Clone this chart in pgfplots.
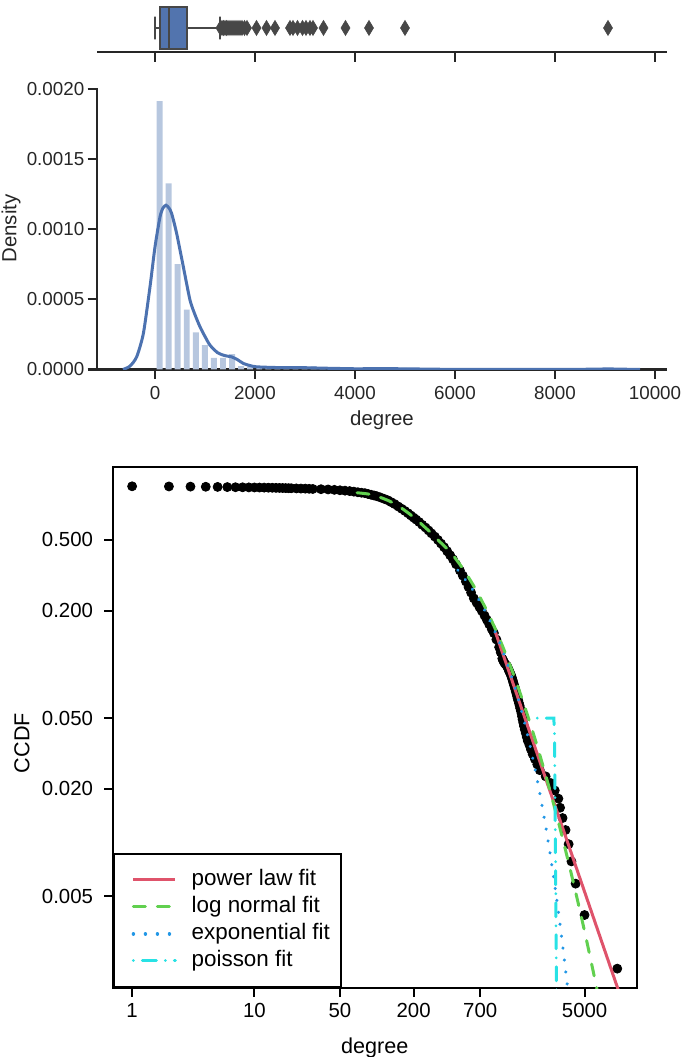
\documentclass[border=0pt]{standalone}
\usepackage{pgfplots}
\pgfplotsset{compat=1.18}
\usepackage{fontspec}
\setmainfont{Liberation Sans}
\definecolor{axgray}{HTML}{262626}
\definecolor{boxblue}{HTML}{5274AE}
\definecolor{boxgray}{HTML}{474747}
\definecolor{histblue}{HTML}{B7C7DF}
\definecolor{kdeblue}{HTML}{4C72B0}
\definecolor{rred}{HTML}{DF536B}
\definecolor{rgreen}{HTML}{61D04F}
\definecolor{rblue}{HTML}{2297E6}
\definecolor{rcyan}{HTML}{28E2E5}
\begin{document}
\begin{tikzpicture}
\useasboundingbox (0,0) rectangle (342.5pt,528.5pt);
% ---------------- top: boxplot ----------------
\begin{axis}[
  at={(48.5pt,502.35pt)}, anchor=south west,
  scale only axis, width=285pt, height=25.15pt,
  xmin=-1160, xmax=10240, ymin=0, ymax=50.3,
  axis x line*=bottom, axis y line=none,
  axis line style={line width=1.15pt, color=axgray},
  xtick={0,2000,4000,6000,8000,10000}, xticklabels={},
  scaled ticks=false,
  tick align=outside, major tick length=4.8pt,
  tick style={line width=1.15pt, color=axgray},
  clip=false,
]
\addplot[fill=boxblue, draw=boxgray, line width=1pt] coordinates {(100,3.3) (634,3.3) (634,45.6) (100,45.6)} -- cycle;
\addplot[draw=boxgray, line width=1pt] coordinates {(275,3.3) (275,45.6)};
\addplot[draw=boxgray, line width=1.2pt] coordinates {(1,24.3) (100,24.3)};
\addplot[draw=boxgray, line width=1.2pt] coordinates {(634,24.3) (1300,24.3)};
\addplot[draw=boxgray, line width=1.4pt, line cap=round] coordinates {(1,13.8) (1,34.8)};
\addplot[draw=boxgray, line width=1.4pt, line cap=round] coordinates {(1300,13.8) (1300,34.8)};
\addplot[only marks, mark=diamond*, mark size=3.75pt,
  mark options={xscale=0.8, fill=boxgray, draw=boxgray, line width=0.3pt}]
  coordinates {(1310,24.3) (1340,24.3) (1370,24.3) (1400,24.3) (1430,24.3) (1460,24.3)
  (1500,24.3) (1540,24.3) (1580,24.3) (1620,24.3) (1660,24.3) (1700,24.3) (1740,24.3)
  (1790,24.3) (1840,24.3) (2030,24.3) (2230,24.3) (2400,24.3) (2700,24.3) (2760,24.3)
  (2850,24.3) (2950,24.3) (3020,24.3) (3100,24.3) (3160,24.3) (3370,24.3) (3810,24.3)
  (4280,24.3) (5000,24.3) (9060,24.3)};
\end{axis}
% ---------------- middle: histogram + KDE ----------------
\begin{axis}[
  at={(48.5pt,343.75pt)}, anchor=south west,
  scale only axis, width=285pt, height=140.9pt,
  xmin=-1160, xmax=10240, ymin=0, ymax=0.002007,
  axis x line*=bottom, axis y line*=left,
  axis line style={line width=1.15pt, color=axgray},
  tick align=outside, major tick length=4.65pt,
  tick style={line width=1.15pt, color=axgray},
  xtick={0,2000,4000,6000,8000,10000},
  xticklabels={0,2000,4000,6000,8000,10000},
  ytick={0,0.0005,0.001,0.0015,0.002},
  yticklabels={0.0000,0.0005,0.0010,0.0015,0.0020},
  scaled ticks=false,
  tick label style={font=\fontsize{9.4}{11}\selectfont, text=axgray},
  xticklabel style={inner sep=0pt, anchor=north, yshift=-3.7pt},
  yticklabel style={inner sep=0pt, anchor=east, xshift=-1.5pt},
  xlabel={degree}, ylabel={Density},
  label style={font=\fontsize{10.2}{12}\selectfont, text=axgray},
  xlabel style={at={(axis description cs:0.5,-0.1437)}, anchor=north, inner sep=0pt},
  ylabel style={at={(axis description cs:-0.1509,0.5)}, anchor=center, inner sep=0pt},
]
\addplot[ybar, bar width=118, bar shift=0pt, fill=histblue, draw=none] coordinates {
  (91.6,0.001911) (272.8,0.001325) (454.0,0.000750) (635.2,0.000427) (816.4,0.000264)
  (997.6,0.000173) (1178.8,0.000083) (1360.0,0.000083) (1541.2,0.000109) (1722.4,0.000024)
  (1903.6,0.0000216) (2084.8,0.0000108) (2266.0,0.0000108) (2447.2,0.0000108)
  (2628.4,0.0000108) (2809.6,0.0000216) (2990.8,0.0000216) (3172.0,0.0000216)
  (3353.2,0.0000108) (3896.8,0.0000108) (4259.2,0.0000108) (4984.0,0.0000108)
  (8969.8,0.0000108)};
\addplot[kdeblue, line width=1.5pt, smooth, tension=0.4] coordinates {
  (-640,0) (-500,0.000024) (-367,0.00009) (-233,0.000256) (-100,0.000589) (0,0.000873)
  (100,0.001087) (160,0.00115) (220,0.00117) (280,0.00115) (333,0.001111) (433,0.000969)
  (567,0.000731) (700,0.000494) (800,0.00039) (900,0.000304) (1000,0.000235)
  (1100,0.000173) (1250,0.00012) (1367,0.000102) (1450,0.000095) (1533,0.00009)
  (1650,0.00007) (1767,0.000043) (1900,0.000028) (2033,0.000019) (2433,0.000014)
  (2833,0.000014) (3367,0.0000095) (4033,0.000005) (4300,0.000006) (5000,0.000005)
  (5600,0.000002) (6500,0.0000005) (8000,0.0000005) (8700,0.000002) (9060,0.000004)
  (9400,0.000002) (9700,0)};
\end{axis}
% ---------------- bottom: CCDF ----------------
\begin{axis}[
  at={(56.35pt,34.35pt)}, anchor=south west,
  scale only axis, width=262pt, height=260.85pt,
  xmode=log, ymode=log,
  xmin=0.694, xmax=13322, ymin=0.00152, ymax=1.29,
  clip marker paths=true,
  axis line style={line width=1pt, black},
  tick align=outside, major tick length=4.3pt,
  tick style={line width=1pt, black},
  xtick pos=bottom, ytick pos=left,
  xtick={1,10,50,200,700,5000}, xticklabels={1,10,50,200,700,5000},
  ytick={0.005,0.02,0.05,0.2,0.5}, yticklabels={0.005,0.020,0.050,0.200,0.500},
  minor xtick={}, minor ytick={},
  scaled ticks=false,
  tick label style={font=\fontsize{10.2}{12}\selectfont},
  xticklabel style={inner sep=0pt, anchor=north, yshift=-2.9pt},
  yticklabel style={inner sep=0pt, anchor=east, xshift=-5.35pt},
  xlabel={degree}, ylabel={CCDF},
  label style={font=\fontsize{10.8}{13}\selectfont},
  xlabel style={at={(axis description cs:0.5,-0.0939)}, anchor=north, inner sep=0pt},
  ylabel style={at={(axis description cs:-0.1731,0.47)}, anchor=center, inner sep=0pt},
  legend style={at={(0,0)}, anchor=south west, draw=black, line width=1pt,
    inner xsep=5.5pt, inner ysep=7.8pt, row sep=2.7pt,
    font=\fontsize{11.2}{13}\selectfont,
    nodes={inner sep=0pt, text height=8.3pt, text depth=2.5pt}},
  legend cell align=left,
  legend image code/.code={\path (-3.5pt,0pt); \draw[#1] (0pt,0pt) -- (21pt,0pt); \path (28.3pt,0pt);},
]
\addplot[only marks, mark=*, mark size=2.25pt, black, forget plot] coordinates {
  (1,1.000) (2,0.998) (3,0.996) (4,0.994) (5,0.992) (6,0.990) (7,0.988) (8,0.987)
  (9,0.986) (10,0.985) (11,0.984) (12,0.983) (13,0.982) (14,0.981) (15,0.980) (16,0.979)
  (17,0.978) (18,0.977) (19,0.976) (20,0.975) (22,0.973) (24,0.971) (26,0.970) (28,0.968)
  (30,0.966) (35,0.963) (40,0.96) (45,0.955) (50,0.95) (55,0.945) (60,0.94) (65,0.933)
  (70,0.926) (75,0.92) (80,0.915) (85,0.905) (90,0.896) (95,0.888) (100,0.88) (107,0.866)
  (115,0.85) (123,0.835) (131,0.815) (140,0.795) (150,0.77) (160,0.748) (170,0.727)
  (180,0.706) (190,0.686) (200,0.667) (210,0.65) (222,0.63) (235,0.608) (250,0.587)
  (265,0.565) (280,0.544) (298,0.522) (316,0.50) (335,0.477) (355,0.455) (376,0.432)
  (398,0.41) (420,0.389) (445,0.365) (478,0.337) (505,0.315) (535,0.292) (562,0.272)
  (590,0.253) (621,0.235) (655,0.222) (690,0.21) (721,0.20) (760,0.188) (794,0.178)
  (830,0.168) (870,0.158) (906,0.150) (950,0.138) (1000,0.125) (1030,0.117)
  (1062,0.10784) (1075,0.10588) (1089,0.10392) (1105,0.10196) (1130,0.10000)
  (1160,0.09804) (1175,0.09608) (1190,0.09412) (1205,0.09216) (1222,0.09020)
  (1240,0.08824) (1257,0.08627) (1270,0.08431) (1284,0.08235) (1297,0.08039)
  (1310,0.07843) (1325,0.07647) (1340,0.07451) (1355,0.07255) (1370,0.07059)
  (1385,0.06863) (1400,0.06667) (1415,0.06471) (1432,0.06275) (1450,0.06078)
  (1470,0.05882) (1485,0.05686) (1505,0.05490) (1525,0.05294) (1540,0.05098)
  (1555,0.04902) (1575,0.04706) (1595,0.04510) (1620,0.04314) (1650,0.04118)
  (1680,0.03922) (1715,0.03725) (1770,0.03529) (1820,0.03333) (1880,0.03137)
  (1960,0.02941) (2050,0.02745) (2150,0.02549) (2400,0.02353) (2650,0.02157)
  (2850,0.01961) (3050,0.01765) (3150,0.01569) (3300,0.01373) (3490,0.01176)
  (3700,0.00980) (3900,0.00784) (4220,0.00588) (4990,0.00392) (9240,0.00196)};
\addplot[rred, line width=1.5pt] coordinates {(935,0.151) (10000,0.00132)};
\addlegendentry{power law fit}
\addplot[rgreen, line width=1.5pt, line cap=round, dash pattern=on 6pt off 6pt, smooth] coordinates {
  (69,0.92) (85,0.905) (100,0.88) (125,0.83) (150,0.775) (180,0.71) (210,0.652)
  (250,0.585) (280,0.545) (316,0.500) (398,0.428) (501,0.348) (631,0.270) (794,0.200)
  (1000,0.141) (1259,0.0946) (1585,0.0605) (1995,0.0369) (2512,0.0214) (3162,0.01186)
  (3981,0.00625) (5012,0.00314) (6310,0.00150) (7079,0.00102)};
\addlegendentry{log normal fit}
\addplot[rblue, line width=1.7pt, line cap=round, dash pattern=on 0.01pt off 6pt] coordinates {
  (460,0.338) (500,0.3155) (600,0.266) (700,0.2244) (800,0.189) (900,0.1596) (1000,0.1346)
  (1200,0.0957) (1400,0.0681) (1600,0.0484) (1800,0.0344) (2000,0.0245) (2200,0.0174)
  (2400,0.0124) (2600,0.00881) (2800,0.00627) (3000,0.00446) (3200,0.00317)
  (3400,0.00225) (3600,0.0016) (3800,0.00114)};
\addlegendentry{exponential fit}
\addplot[rcyan, line width=1.5pt, line cap=round, dash pattern=on 0.01pt off 4.5pt on 7pt off 4.5pt] coordinates {
  (2050,0.05) (2800,0.0499) (2838,0.04) (2860,0.02) (2890,0.008) (2920,0.003) (2950,0.0012)};
\addlegendentry{poisson fit}
\end{axis}
\end{tikzpicture}
\end{document}
